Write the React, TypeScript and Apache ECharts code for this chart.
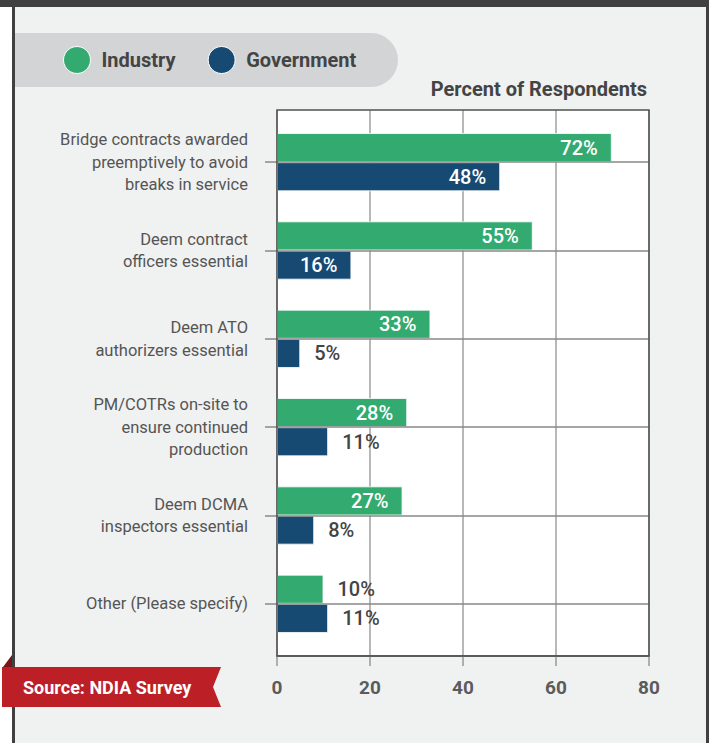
import React, { useEffect, useRef } from "react";
import * as echarts from "echarts";

const categories = [
  "Bridge contracts awarded\npreemptively to avoid\nbreaks in service",
  "Deem contract\nofficers essential",
  "Deem ATO\nauthorizers essential",
  "PM/COTRs on-site to\nensure continued\nproduction",
  "Deem DCMA\ninspectors essential",
  "Other (Please specify)",
];
const industry = [72, 55, 33, 28, 27, 10];
const government = [48, 16, 5, 11, 8, 11];
const xTicks = [0, 20, 40, 60, 80];

const GREEN = "#33aa6f";
const NAVY = "#164a72";
const FONT = "Roboto, 'Noto Sans', sans-serif";

function barData(values: number[]) {
  return values.map((v) => {
    const inside = v >= 15;
    return {
      value: v,
      label: inside
        ? { position: "insideRight", color: "#ffffff" }
        : { position: "right", color: "#444444" },
    };
  });
}

export default function App() {
  const ref = useRef<HTMLDivElement>(null);
  useEffect(() => {
    if (!ref.current) return;
    const chart = echarts.init(ref.current, null, { renderer: "svg" });
    const labelCommon = {
      show: true,
      distance: 14,
      fontSize: 20,
      fontWeight: 500,
      fontFamily: FONT,
      formatter: "{c}%",
    };
    chart.setOption({
      animation: false,
      backgroundColor: "transparent",
      title: {
        text: "Percent of Respondents",
        right: 57,
        top: 74,
        textStyle: { fontSize: 20, fontWeight: "bold", color: "#444", fontFamily: FONT },
      },
      legend: {
        data: ["Industry", "Government"],
        left: 58,
        top: 41,
        icon: "circle",
        itemWidth: 27,
        itemHeight: 27,
        itemGap: 32,
        itemStyle: { borderColor: "#ffffff", borderWidth: 1 },
        textStyle: {
          fontSize: 20,
          fontWeight: "bold",
          color: "#444",
          fontFamily: FONT,
          padding: [0, 0, 0, 6],
        },
      },
      grid: [
        { left: 277, top: 110, width: 372, height: 546, show: true, backgroundColor: "#ffffff", borderWidth: 0 },
        { left: 277, top: 118, width: 372, height: 530 },
      ],
      xAxis: [
        {
          gridIndex: 0,
          type: "value",
          min: 0,
          max: 80,
          interval: 20,
          axisLine: { show: true, lineStyle: { color: "#505050", width: 1.5 } },
          axisTick: { show: true, length: 10, lineStyle: { color: "#999", width: 1.5 } },
          splitLine: { show: true, lineStyle: { color: "#a0a0a0", width: 1.5 } },
          axisLabel: {
            margin: 22,
            fontSize: 19,
            fontWeight: "bold",
            color: "#5b5b5b",
            fontFamily: FONT,
            formatter: (v: number) => (xTicks.includes(v) ? String(v) : ""),
          },
        },
        { gridIndex: 1, type: "value", min: 0, max: 80, show: false },
      ],
      yAxis: [
        { gridIndex: 0, type: "value", show: false },
        {
          gridIndex: 1,
          type: "category",
          data: categories,
          inverse: true,
          axisLine: { show: false },
          axisTick: { show: true, alignWithLabel: true, length: 12, lineStyle: { color: "#888", width: 1.5 } },
          splitLine: { show: false },
          axisLabel: {
            margin: 29,
            fontSize: 16.5,
            lineHeight: 22.5,
            color: "#555",
            fontFamily: FONT,
            align: "right",
          },
        },
      ],
      series: [
        {
          type: "line",
          xAxisIndex: 1,
          yAxisIndex: 1,
          data: [],
          z: 1,
          markLine: {
            silent: true,
            symbol: ["none", "none"],
            label: { show: false },
            lineStyle: { color: "#888", width: 1.5, type: "solid" },
            data: categories.map((c) => ({ yAxis: c })),
          },
        },
        {
          name: "Industry",
          type: "bar",
          xAxisIndex: 1,
          yAxisIndex: 1,
          z: 3,
          barCategoryGap: "34%",
          barGap: "0%",
          itemStyle: { color: GREEN, borderColor: "rgba(255,255,255,0.8)", borderWidth: 1 },
          label: labelCommon,
          data: barData(industry),
        },
        {
          name: "Government",
          type: "bar",
          xAxisIndex: 1,
          yAxisIndex: 1,
          z: 3,
          barCategoryGap: "34%",
          barGap: "0%",
          itemStyle: { color: NAVY, borderColor: "rgba(255,255,255,0.8)", borderWidth: 1 },
          label: labelCommon,
          data: barData(government),
        },
      ],
      graphic: [
        {
          type: "rect",
          z: -10,
          silent: true,
          shape: { x: 15, y: 33, width: 383, height: 54, r: [0, 27, 27, 0] },
          style: { fill: "#d3d4d5" },
        },
        {
          type: "rect",
          z: 100,
          silent: true,
          shape: { x: 277, y: 110, width: 372, height: 546 },
          style: { fill: "none", stroke: "#505050", lineWidth: 1.5 },
        },
        {
          type: "polygon",
          z: 100,
          silent: true,
          shape: { points: [[3, 667], [12, 655], [12, 667]] },
          style: { fill: "#7a1418" },
        },
        {
          type: "polygon",
          z: 100,
          silent: true,
          shape: { points: [[2, 667], [221, 667], [213, 687], [221, 707], [2, 707]] },
          style: { fill: "#bc1f26" },
        },
        {
          type: "text",
          z: 101,
          silent: true,
          x: 23,
          y: 687,
          style: {
            text: "Source: NDIA Survey",
            fill: "#ffffff",
            fontSize: 18,
            fontWeight: "bold",
            fontFamily: FONT,
            verticalAlign: "middle",
          },
        },
      ],
    });
    return () => chart.dispose();
  }, []);

  return (
    <div style={{ position: "absolute", left: 0, top: 0, width: 709, height: 743, background: "#ffffff", overflow: "hidden" }}>
      <div
        style={{
          position: "absolute",
          left: 12,
          top: 0,
          width: 697,
          height: 743,
          boxSizing: "border-box",
          background: "#f0f1f1",
          borderLeft: "3px solid #404040",
          borderRight: "3px solid #404040",
        }}
      />
      <div style={{ position: "absolute", left: 0, top: 0, width: 709, height: 7, background: "#404040" }} />
      <div ref={ref} style={{ position: "absolute", left: 0, top: 0, width: 709, height: 743 }} />
    </div>
  );
}
